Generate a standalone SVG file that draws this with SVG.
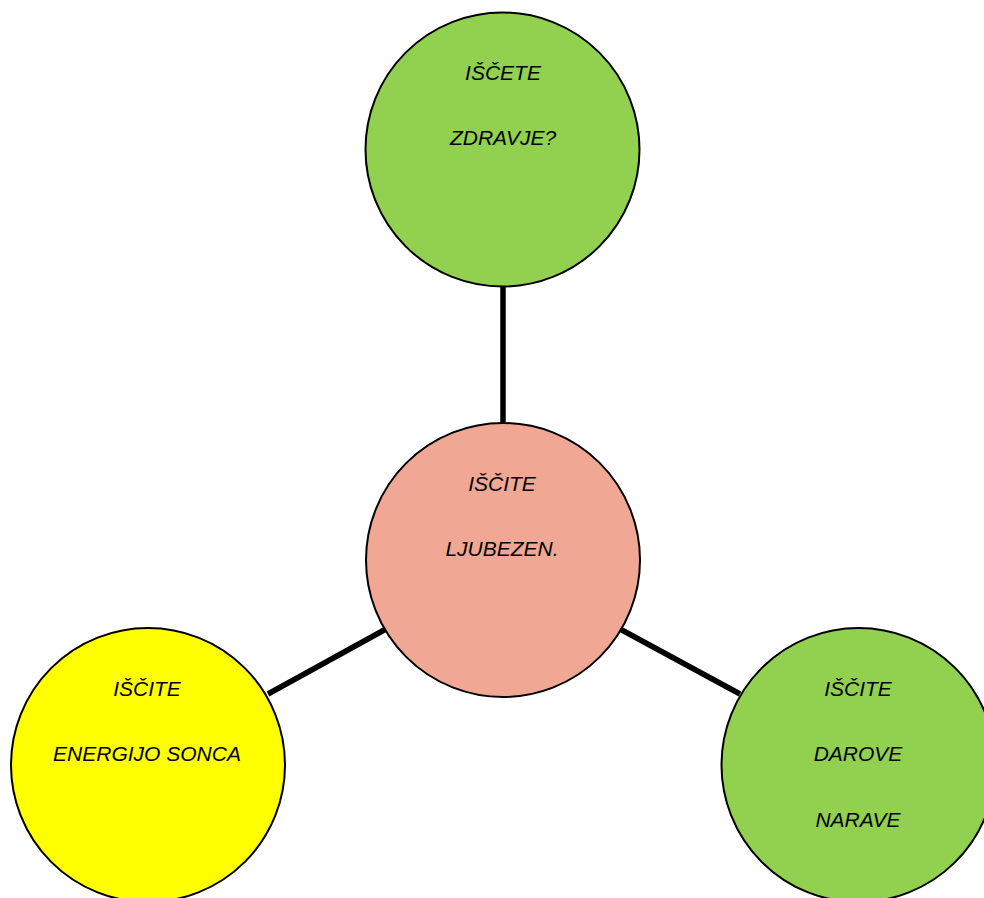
<svg xmlns="http://www.w3.org/2000/svg" width="984" height="898" viewBox="0 0 984 898">
<style>
.n{stroke:#000;stroke-width:2}
.t{font-family:"Liberation Sans",Arial,sans-serif;font-style:italic;font-size:21px;fill:#000;text-anchor:middle}
.c{stroke:#000;stroke-width:5.5;fill:none}
</style>
<rect width="984" height="898" fill="#fff"/>
<g id="connectors">
<line class="c" x1="503" y1="286" x2="503" y2="423"/>
<line class="c" x1="268" y1="694" x2="386" y2="629"/>
<line class="c" x1="620" y1="629" x2="740" y2="694"/>
</g>
<g id="top">
<circle class="n" cx="502.5" cy="149.5" r="137" fill="#92D050"/>
<text class="t" x="503" y="80">IŠČETE</text>
<text class="t" x="503" y="145">ZDRAVJE?</text>
</g>
<g id="center">
<circle class="n" cx="503" cy="560" r="137" fill="#F0A894"/>
<text class="t" x="502" y="491">IŠČITE</text>
<text class="t" x="502" y="556">LJUBEZEN.</text>
</g>
<g id="left">
<circle class="n" cx="148" cy="765" r="137" fill="#FFFF00"/>
<text class="t" x="147" y="696">IŠČITE</text>
<text class="t" x="147" y="761">ENERGIJO SONCA</text>
</g>
<g id="right">
<circle class="n" cx="858.5" cy="765" r="137" fill="#92D050"/>
<text class="t" x="858" y="696">IŠČITE</text>
<text class="t" x="858" y="761">DAROVE</text>
<text class="t" x="858" y="827">NARAVE</text>
</g>
</svg>
